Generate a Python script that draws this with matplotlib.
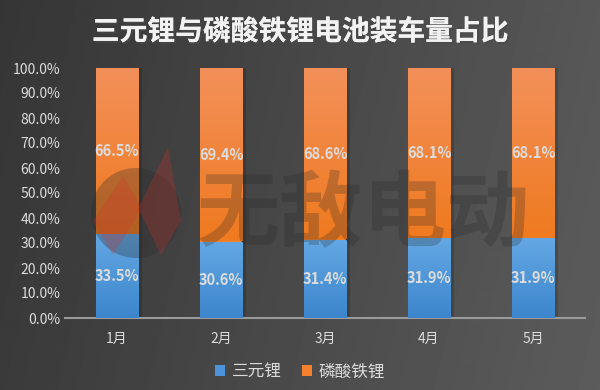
import numpy as np
import matplotlib
matplotlib.use("Agg")
import matplotlib.pyplot as plt
import matplotlib.patheffects as pe
from matplotlib.ticker import FuncFormatter
from matplotlib.patches import Ellipse, Polygon
from matplotlib.colors import LinearSegmentedColormap

plt.rcParams['font.family'] = ['Noto Sans CJK SC', 'DejaVu Sans']

# data
months = ["1月", "2月", "3月", "4月", "5月"]
ternary = [33.5, 30.6, 31.4, 31.9, 31.9]
lfp = [66.5, 69.4, 68.6, 68.1, 68.1]
series_names = ["三元锂", "磷酸铁锂"]
title = "三元锂与磷酸铁锂电池装车量占比"
watermark = "无敌电动"

blue = "#4b94db"
orange = "#f4822c"
text_col = "#dcdcdc"

fig = plt.figure(figsize=(6, 3.9), dpi=100)

# dark gradient background
bg = fig.add_axes([0, 0, 1, 1], zorder=-10)
xx, yy = np.meshgrid(np.linspace(0, 1, 300), np.linspace(0, 1, 200))
shade = 0.21 + 0.13 * xx + 0.02 * yy
bg.imshow(shade, cmap="gray", vmin=0, vmax=1, aspect="auto", extent=[0, 1, 0, 1])
bg.set_xlim(0, 1)
bg.set_ylim(0, 1)
bg.set_axis_off()

ax = fig.add_axes([65 / 600, 72 / 390, 520 / 600, 250 / 390])
ax.set_facecolor("none")
x = np.arange(len(months))
w = 0.405

# soft shadow behind bars
ax.bar(x + 0.035, [100] * len(x), w, color="black", alpha=0.15, zorder=2)

blue_cmap = LinearSegmentedColormap.from_list("b", ["#3d86cd", "#63a8e4"])
orange_cmap = LinearSegmentedColormap.from_list("o", ["#ef7a1f", "#f3905a"])
grad = np.linspace(0, 1, 100).reshape(-1, 1)

b1 = ax.bar(x, ternary, w, color=blue, label=series_names[0], zorder=3)
b2 = ax.bar(x, lfp, w, bottom=ternary, color=orange, label=series_names[1], zorder=3)
for bars, cmap in [(b1, blue_cmap), (b2, orange_cmap)]:
    for r in bars:
        x0, y0 = r.get_x(), r.get_y()
        im = ax.imshow(grad, cmap=cmap, aspect="auto", origin="lower",
                       extent=[x0, x0 + r.get_width(), y0, y0 + r.get_height()], zorder=3.1)
        im.set_clip_path(r)

ax.set_xlim(-0.5, len(months) - 0.5)
ax.set_ylim(0, 100)

# watermark (logo + text), drawn over the bars, under the labels
fx = lambda px: px / 600
fy = lambda py: 1 - py / 390
ax.add_patch(Ellipse((fx(136), fy(213)), 90 / 600, 90 / 390, transform=fig.transFigure,
                     facecolor="#2a2a2a", alpha=0.3, edgecolor="none",
                     clip_on=False, zorder=4))
bolt = [(93, 221), (123, 176), (140, 205), (168, 147), (181, 221), (161, 255),
        (140, 212), (113, 255)]
ax.add_patch(Polygon([(fx(a), fy(b)) for a, b in bolt], closed=True,
                     transform=fig.transFigure, facecolor="#d8302a", alpha=0.25,
                     edgecolor="none", clip_on=False, zorder=4.1))
ax.text(fx(363), fy(216), watermark, transform=fig.transFigure, color="#262626",
        alpha=0.25, fontsize=60, fontweight="black", ha="center", va="center",
        clip_on=False, zorder=4.2)

for i in range(len(months)):
    ax.text(x[i], ternary[i] / 2, f"{ternary[i]:.1f}%", ha="center", va="center",
            color=text_col, fontsize=10.5, fontweight="bold", zorder=6)
    ax.text(x[i], ternary[i] + lfp[i] / 2, f"{lfp[i]:.1f}%", ha="center", va="center",
            color=text_col, fontsize=10.5, fontweight="bold", zorder=6)

ax.set_yticks(np.arange(0, 101, 10))
ax.yaxis.set_major_formatter(FuncFormatter(lambda v, p: f"{v:.1f}%"))
ax.set_xticks(x)
ax.set_xticklabels(months)
ax.tick_params(axis="both", length=0, colors=text_col, labelsize=10)
ax.tick_params(axis="x", pad=10)
for s in ["top", "right", "left"]:
    ax.spines[s].set_visible(False)
ax.spines["bottom"].set_color("#9a9a9a")
ax.spines["bottom"].set_linewidth(1.5)

fig.text(0.5, 1 - 32 / 390, title, ha="center", va="center", color="#f2f2f2",
         fontsize=20, fontweight="bold",
         path_effects=[pe.withSimplePatchShadow(offset=(1.5, -1.5), alpha=0.6), pe.Normal()])

leg = fig.legend(loc="center", bbox_to_anchor=(0.5, 1 - 372 / 390), ncol=2, frameon=False,
                 fontsize=12, handlelength=0.6, handleheight=0.6, columnspacing=1.2,
                 handletextpad=0.4)
for t in leg.get_texts():
    t.set_color(text_col)

fig.savefig("out.png", dpi=100)
